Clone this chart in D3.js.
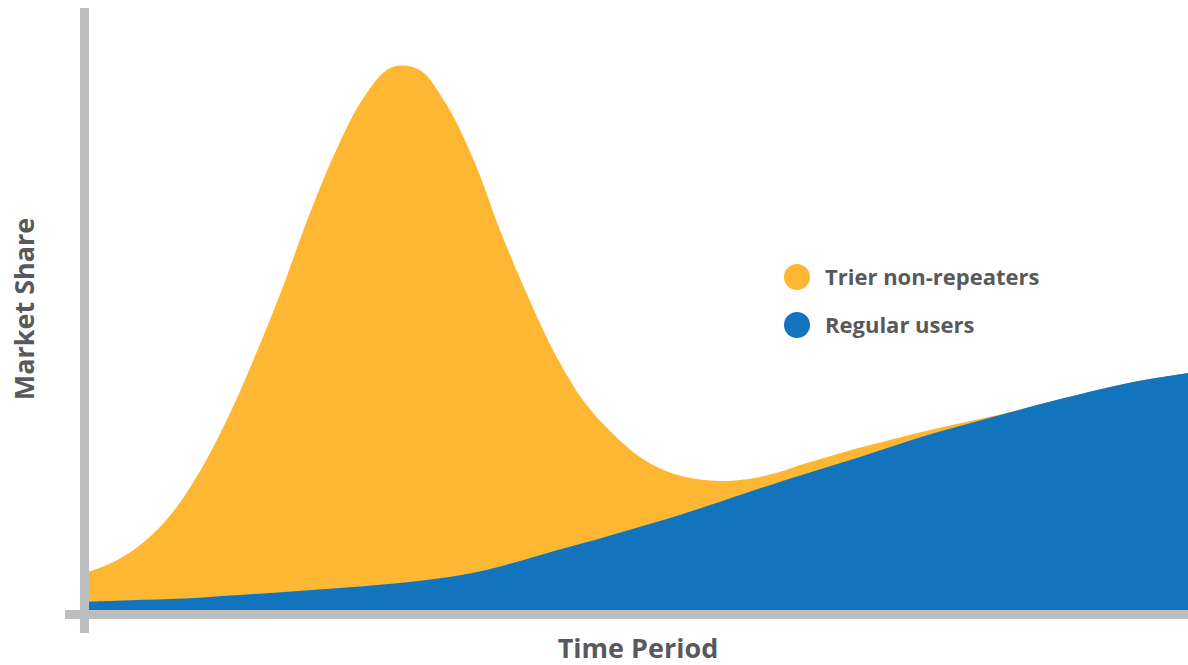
<!DOCTYPE html>
<html>
<head>
<meta charset="utf-8">
<script src="https://cdn.jsdelivr.net/npm/d3@7"></script>
<style>
  html, body { margin: 0; padding: 0; background: #ffffff; }
  svg { display: block; }
  text { font-family: "Open Sans", "Lato", sans-serif; font-weight: 700; fill: #59595b; }
</style>
</head>
<body>
<svg id="chart" width="1188" height="665"></svg>
<script>
// Time steps (arbitrary units along the product life)
const periods = d3.range(0, 41);

// Market share held by regular (repeat) users at each step
const regularUsers = [
  1.38, 1.53, 1.70, 1.85, 2.05, 2.37, 2.67, 2.97, 3.30, 3.63,
  3.97, 4.37, 4.85, 5.42, 6.20, 7.30, 8.60, 9.92, 11.17, 12.47,
  13.78, 15.13, 16.58, 18.08, 19.62, 21.13, 22.57, 24.00, 25.42, 26.90,
  28.40, 29.80, 31.05, 32.30, 33.53, 34.75, 35.88, 36.98, 38.00, 38.78,
  39.50
];

// Additional share from triers who never repeat (stacked on top)
const trierNonRepeaters = [
  5.00, 6.72, 9.63, 14.15, 20.78, 29.13, 39.17, 50.20, 62.37, 73.03,
  81.45, 86.05, 85.24, 78.91, 68.80, 55.53, 43.40, 32.42, 23.67, 17.20,
  11.88, 8.03, 5.33, 3.42, 2.22, 1.70, 1.77, 1.67, 1.58, 1.27,
  0.93, 0.60, 0.35, 0.12, 0.00, 0.00, 0.00, 0.00, 0.00, 0.00,
  0.00
];

const seriesKeys = ["regular", "trier"];
const seriesNames = { trier: "Trier non-repeaters", regular: "Regular users" };
const seriesColors = { trier: "#fdb733", regular: "#1174bc" };
const legendOrder = ["trier", "regular"];

const axisLabelX = "Time Period";
const axisLabelY = "Market Share";

const table = periods.map((t, i) => ({ t, regular: regularUsers[i], trier: trierNonRepeaters[i] }));

const svg = d3.select("#chart");
const plot = { left: 89, right: 1188, top: 10, bottom: 610 };

const x = d3.scaleLinear().domain(d3.extent(periods)).range([plot.left, plot.right]);
const y = d3.scaleLinear().domain([0, 100]).range([plot.bottom, plot.top]);

const stacked = d3.stack().keys(seriesKeys)(table);
const layer = Object.fromEntries(stacked.map(s => [s.key, s]));

const curve = d3.curveCatmullRom.alpha(0.5);

// Trier layer is filled down to the baseline so no seam shows under the regular layer
const trierArea = d3.area()
  .x(d => x(d.data.t))
  .y0(y(0))
  .y1(d => y(d[1]))
  .curve(curve);

const regularArea = d3.area()
  .x(d => x(d.data.t))
  .y0(d => y(d[0]))
  .y1(d => y(d[1]))
  .curve(curve);

svg.append("path").datum(layer.trier).attr("fill", seriesColors.trier).attr("d", trierArea);
svg.append("path").datum(layer.regular).attr("fill", seriesColors.regular).attr("d", regularArea);

// Thick grey axis bars
const axisColor = "#bcbec0";
svg.append("line")
  .attr("x1", plot.left - 24).attr("x2", plot.right)
  .attr("y1", y(0) + 4.5).attr("y2", y(0) + 4.5)
  .attr("stroke", axisColor).attr("stroke-width", 9);
svg.append("line")
  .attr("x1", plot.left - 4.5).attr("x2", plot.left - 4.5)
  .attr("y1", 8).attr("y2", y(0) + 23)
  .attr("stroke", axisColor).attr("stroke-width", 9);

// Axis titles
svg.append("text")
  .attr("x", 638).attr("y", 658)
  .attr("text-anchor", "middle")
  .attr("font-size", 27)
  .text(axisLabelX);

svg.append("text")
  .attr("transform", "translate(34,309) rotate(-90)")
  .attr("text-anchor", "middle")
  .attr("font-size", 27)
  .text(axisLabelY);

// Legend
const legend = svg.append("g").attr("transform", "translate(797,277)");
legendOrder.forEach((k, i) => {
  const g = legend.append("g").attr("transform", `translate(0,${i * 48})`);
  g.append("circle").attr("r", 13).attr("fill", seriesColors[k]);
  g.append("text")
    .attr("x", 28).attr("y", 8)
    .attr("font-size", 22)
    .text(seriesNames[k]);
});
</script>
</body>
</html>
